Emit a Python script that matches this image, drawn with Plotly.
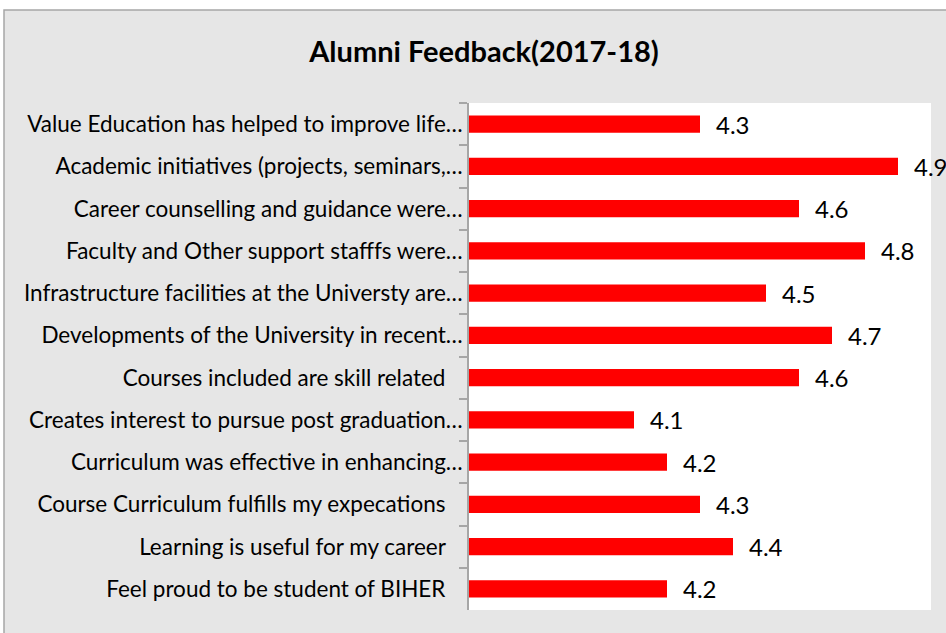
import plotly.graph_objects as go

categories = [
    "Value Education has helped to improve life…",
    "Academic initiatives (projects, seminars,…",
    "Career counselling and guidance were…",
    "Faculty and Other support stafffs were…",
    "Infrastructure facilities at the Universty are…",
    "Developments of the University in recent…",
    "Courses included are skill related\u00a0\u00a0\u00a0",
    "Creates interest to pursue post graduation…",
    "Curriculum was effective in enhancing…",
    "Course Curriculum fulfills my expecations\u00a0\u00a0\u00a0",
    "Learning is useful for my career\u00a0\u00a0\u00a0",
    "Feel proud to be student of BIHER\u00a0\u00a0\u00a0",
]
values = [4.3, 4.9, 4.6, 4.8, 4.5, 4.7, 4.6, 4.1, 4.2, 4.3, 4.4, 4.2]
value_labels = [f"{v:.1f}" for v in values]
axis_min, axis_max = 3.6, 5.0

FONT = "Lato"

fig = go.Figure()
fig.add_trace(go.Bar(
    x=[v - axis_min for v in values], y=categories, orientation="h",
    base=axis_min,
    marker=dict(color="#ff0000", line=dict(width=0)),
    width=0.41, hoverinfo="skip",
))

for cat, v, lab in zip(categories, values, value_labels):
    fig.add_annotation(x=v, y=cat, text=lab, showarrow=False,
                       xanchor="left", xshift=14,
                       font=dict(family=FONT, size=24, color="#000000"))

L, R, T, B = 469, 15, 103, 23
W, H = 946, 633
pw, ph = W - L - R, H - T - B

fig.add_shape(type="rect", xref="paper", yref="paper",
              x0=(4 - L) / pw, x1=(960 - L) / pw,
              y0=(H - B - 650) / ph, y1=(H - B - 10) / ph,
              fillcolor="#e6e6e6", line=dict(color="#a6a6a6", width=1.5),
              layer="below")
fig.add_shape(type="rect", xref="paper", yref="paper",
              x0=0, x1=1, y0=0, y1=1,
              fillcolor="#ffffff", line=dict(width=0), layer="below")

fig.update_layout(
    width=W, height=H,
    margin=dict(l=L, r=R, t=T, b=B),
    paper_bgcolor="#ffffff",
    plot_bgcolor="#ffffff",
    showlegend=False,
    title=dict(text="<b>Alumni Feedback(2017-18)</b>", x=484 / W, xanchor="center",
               y=1 - 52 / H, yanchor="middle",
               font=dict(family=FONT, size=29, color="#000000")),
    font=dict(family=FONT, color="#000000"),
    xaxis=dict(range=[axis_min, axis_max], visible=False, fixedrange=True),
    yaxis=dict(autorange="reversed", showline=True, linecolor="#a6a6a6", linewidth=1.5,
               ticks="outside", ticklen=8, tickcolor="#a6a6a6", tickwidth=1.5,
               tickson="boundaries", showgrid=False, fixedrange=True,
               tickfont=dict(family=FONT, size=22.5, color="#000000"),
               ticklabelstandoff=0),
)

fig.write_html("out.html", config={"displayModeBar": False},
               post_script="document.body.style.margin='0';document.body.style.overflow='hidden';")
